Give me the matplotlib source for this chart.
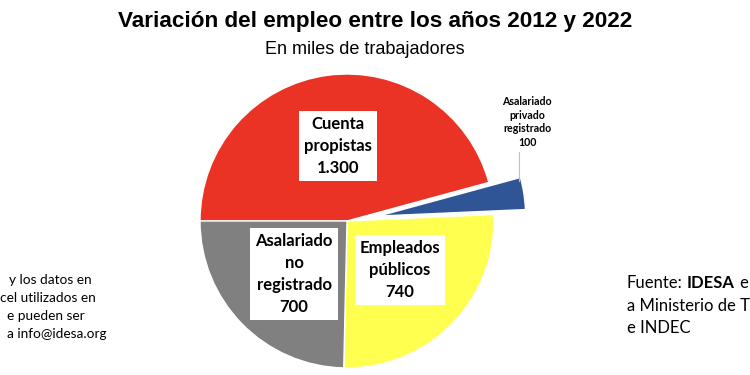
import matplotlib.pyplot as plt

# datos: variación del empleo 2012-2022, en miles
categorias = ["Cuenta\npropistas", "Asalariado\nprivado\nregistrado", "Empleados\npúblicos",
              "Asalariado\nno\nregistrado"]
valores = [1300, 100, 740, 700]
etiquetas_valor = ["1.300", "100", "740", "700"]
colores = ["#EB3325", "#2F5597", "#FFFF4F", "#808080"]

fig = plt.figure(figsize=(7.5, 3.75), dpi=100)
ax = fig.add_axes([0, 0, 1, 1])

H = 375  # alto en px, para ubicar con coordenadas de pantalla


def py(y):
    return H - y


# explode va en unidades de datos (px aquí)
ax.pie(valores, colors=colores, explode=[0, 32, 0, 0], startangle=180, counterclock=False,
       center=(347, py(221)), radius=147,
       wedgeprops=dict(edgecolor="white", linewidth=1.0))
ax.set_xlim(0, 750)
ax.set_ylim(0, 375)
ax.axis("off")

fig.text(375 / 750, py(22) / H, "Variación del empleo entre los años 2012 y 2022",
         ha="center", va="center", fontsize=16.2, fontweight="bold", family="Liberation Sans")
fig.text(365 / 750, py(50) / H, "En miles de trabajadores",
         ha="center", va="center", fontsize=13, family="Liberation Sans")

caja = dict(facecolor="white", edgecolor="none", boxstyle="square,pad=0.3")
pos_etiquetas = {0: (338, 146), 2: (400, 270), 3: (294, 274)}
for i, (x, y) in pos_etiquetas.items():
    ax.text(x, py(y), categorias[i] + "\n" + etiquetas_valor[i], ha="center", va="center",
            fontsize=12, fontweight="bold", family="Lato", linespacing=1.45, bbox=caja)

# etiqueta pequeña del asalariado privado registrado
ax.text(527, py(122), categorias[1] + "\n" + etiquetas_valor[1], ha="center", va="center",
        fontsize=7.7, fontweight="bold", family="Lato", linespacing=1.3)
ax.plot([519, 519], [py(152), py(181)], color="#BFBFBF", lw=0.8)

# textos laterales recortados
izq = ["y los datos en", "cel utilizados en", "e pueden ser", "a info@idesa.org"]
izq_x = [9, 0, 7, 7]
for k, t in enumerate(izq):
    fig.text(izq_x[k] / 750, py(280 + k * 18) / H, t, ha="left", va="center",
             fontsize=9.8, family="Lato")

t1 = fig.text(627 / 750, py(283) / H, "Fuente:", ha="left", va="center", fontsize=12,
              family="Lato")
t2 = ax.annotate("IDESA", xy=(1, 0.5), xycoords=t1, xytext=(3, 0), textcoords="offset points",
                 ha="left", va="center", fontsize=12, fontweight="bold", family="Lato")
ax.annotate("e", xy=(1, 0.5), xycoords=t2, xytext=(3, 0), textcoords="offset points",
            ha="left", va="center", fontsize=12, family="Lato")
fig.text(627 / 750, py(306) / H, "a Ministerio de T", ha="left", va="center", fontsize=12,
         family="Lato")
fig.text(627 / 750, py(328) / H, "e INDEC", ha="left", va="center", fontsize=12, family="Lato")

fig.savefig("out.png", dpi=100)
